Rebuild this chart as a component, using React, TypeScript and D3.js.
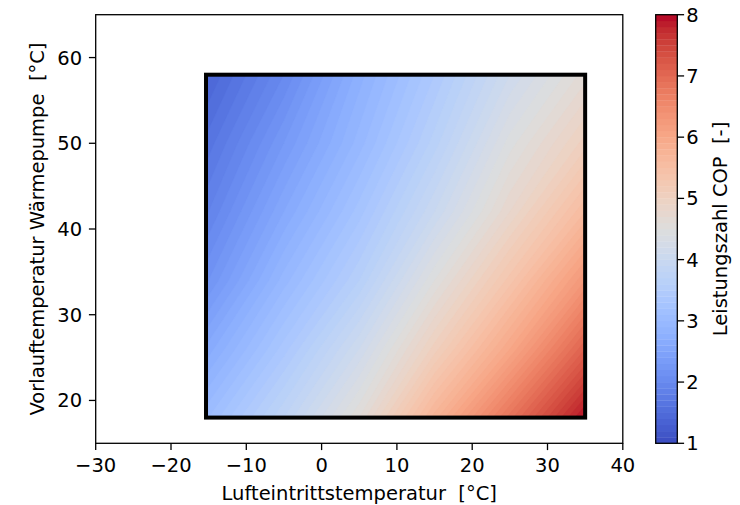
import React from 'react';
import * as d3 from 'd3';

// Lufteintrittstemperatur (columns) und Vorlauftemperatur (rows, top to bottom)
const airTemps = [-15, -5, 5, 15, 25, 35];
const flowTemps = [58, 50, 42, 34, 26, 18];
// COP, one row per flow temperature
const copRows = [
  [1.4, 2.0, 2.75, 3.4, 4.1, 4.65],
  [1.65, 2.3, 2.95, 3.65, 4.45, 5.05],
  [1.9, 2.6, 3.25, 4.0, 4.8, 5.6],
  [2.2, 2.95, 3.6, 4.5, 5.35, 6.3],
  [2.65, 3.35, 4.1, 5.05, 6.0, 7.1],
  [3.1, 3.8, 4.6, 5.75, 6.85, 7.95],
];
const xTicks = [-30, -20, -10, 0, 10, 20, 30, 40];
const yTicks = [20, 30, 40, 50, 60];
const cbTicks = [1, 2, 3, 4, 5, 6, 7, 8];

// matplotlib "coolwarm"
const coolwarm = [
  '#3b4cc0', '#445acc', '#4d68d7', '#5775e1', '#6282ea', '#6c8ef1', '#779af7', '#82a5fb',
  '#8db0fe', '#98b9ff', '#a3c2ff', '#aec9fd', '#b8d0f9', '#c2d5f4', '#ccd9ee', '#d5dbe6',
  '#dddddd', '#e5d8d1', '#ecd3c5', '#f1ccb8', '#f5c4ac', '#f7bb9f', '#f7b193', '#f7a686',
  '#f49a7b', '#f18d6f', '#ec7f63', '#e57058', '#de604d', '#d55042', '#cb3e38', '#c0282f',
  '#b40426',
];
const cmap = d3.scaleLinear<string>()
  .domain(coolwarm.map((_, i) => i / (coolwarm.length - 1)))
  .range(coolwarm)
  .interpolate(d3.interpolateRgb)
  .clamp(true);

const W = 740, H = 505;
const left = 95.7, right = 622.8, top = 14.7, bottom = 443.3;
const cbLeft = 655.7, cbRight = 677.3;
const font = 'DejaVu Sans, sans-serif';
const fs = 19.5;

export default function App() {
  const x = d3.scaleLinear().domain([-30, 40]).range([left, right]);
  const y = d3.scaleLinear().domain([15, 65]).range([bottom, top]);
  const cb = d3.scaleLinear().domain([1, 8]).range([bottom, top]);

  const levels = d3.range(70).map(i => 1 + i * 0.1);
  const color = (t: number) => cmap((t + 0.05 - 1) / 7);

  const n = airTemps.length, m = flowTemps.length;
  const dxStep = airTemps[1] - airTemps[0];
  const dyStep = flowTemps[0] - flowTemps[1];
  const contours = d3.contours().size([n, m]).thresholds(levels)(copRows.flat());
  const proj = d3.geoTransform({
    point(gx: number, gy: number) {
      this.stream.point(x(airTemps[0] + (gx - 0.5) * dxStep), y(flowTemps[0] - (gy - 0.5) * dyStep));
    },
  });
  const path = d3.geoPath(proj);

  const rx0 = x(airTemps[0] - 0.35), rx1 = x(airTemps[n - 1]);
  const ry0 = y(flowTemps[0]), ry1 = y(flowTemps[m - 1]);

  return (
    <svg width={W} height={H} style={{ position: 'absolute', left: 0, top: 0, background: '#fff' }}>
      <defs>
        <clipPath id="field">
          <rect x={rx0} y={ry0} width={rx1 - rx0} height={ry1 - ry0} />
        </clipPath>
      </defs>

      <g clipPath="url(#field)">
        {contours.map((c, i) => (
          <path key={i} d={path(c as any) || ''} fill={color(c.value)} stroke={color(c.value)} strokeWidth={0.4} />
        ))}
      </g>
      <rect x={rx0} y={ry0} width={rx1 - rx0} height={ry1 - ry0} fill="none" stroke="#000" strokeWidth={4} />

      {/* axes frame */}
      <rect x={left} y={top} width={right - left} height={bottom - top} fill="none" stroke="#000" strokeWidth={1.3} />

      {xTicks.map(t => (
        <g key={t} transform={`translate(${x(t)},${bottom})`}>
          <line y2={6.8} stroke="#000" strokeWidth={1.3} />
          <text y={29} textAnchor="middle" fontFamily={font} fontSize={fs} fill="#000">
            {t < 0 ? `\u2212${-t}` : t}
          </text>
        </g>
      ))}
      {yTicks.map(t => (
        <g key={t} transform={`translate(${left},${y(t)})`}>
          <line x2={-6.8} stroke="#000" strokeWidth={1.3} />
          <text x={-13.5} y={7} textAnchor="end" fontFamily={font} fontSize={fs} fill="#000">{t}</text>
        </g>
      ))}

      <text x={(left + right) / 2} y={500} textAnchor="middle" fontFamily={font} fontSize={fs} fill="#000"
        style={{ whiteSpace: 'pre' }}>
        Lufteintrittstemperatur  [°C]
      </text>
      <text transform={`translate(44,${(top + bottom) / 2}) rotate(-90)`} textAnchor="middle"
        fontFamily={font} fontSize={fs} fill="#000" style={{ whiteSpace: 'pre' }}>
        Vorlauftemperatur Wärmepumpe  [°C]
      </text>

      {/* colorbar */}
      {levels.map((t, i) => (
        <rect key={i} x={cbLeft} y={cb(t + 0.1)} width={cbRight - cbLeft} height={cb(t) - cb(t + 0.1) + 0.3}
          fill={color(t)} />
      ))}
      <rect x={cbLeft} y={top} width={cbRight - cbLeft} height={bottom - top} fill="none" stroke="#000" strokeWidth={1.3} />
      {cbTicks.map(t => (
        <g key={t} transform={`translate(${cbRight},${cb(t)})`}>
          <line x2={6.8} stroke="#000" strokeWidth={1.3} />
          <text x={9} y={7} fontFamily={font} fontSize={fs} fill="#000">{t}</text>
        </g>
      ))}
      <text transform={`translate(727,${(top + bottom) / 2}) rotate(-90)`} textAnchor="middle"
        fontFamily={font} fontSize={fs} fill="#000" style={{ whiteSpace: 'pre' }}>
        Leistungszahl COP  [-]
      </text>
    </svg>
  );
}
